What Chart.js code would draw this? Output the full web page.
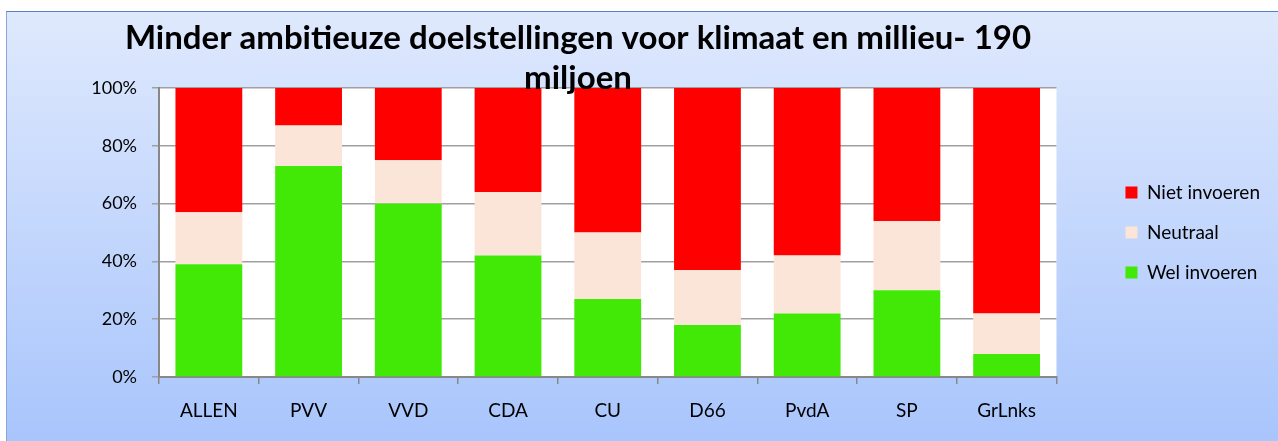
<!DOCTYPE html>
<html>
<head>
<meta charset="utf-8">
<script src="https://cdn.jsdelivr.net/npm/chart.js@4.4.0/dist/chart.umd.min.js"></script>
<style>
  html, body { margin: 0; padding: 0; background: #fff; overflow: hidden; }
  #frame {
    position: absolute; left: 6px; top: 11px; width: 1300px; height: 440px;
    border-top: 1px solid #5a80c4; border-left: 1px solid #8aa6d8;
    background: linear-gradient(to bottom, #dfe9fd 0%, #a7c4fc 100%);
  }
  #wrap { position: absolute; left: 0; top: 0; width: 1278px; height: 441px; }
</style>
</head>
<body>
<div id="frame"></div>
<div id="wrap"><canvas id="chart"></canvas></div>
<script>
// Chart data
const categories = ['ALLEN', 'PVV', 'VVD', 'CDA', 'CU', 'D66', 'PvdA', 'SP', 'GrLnks'];
const welInvoeren = [39, 73, 60, 42, 27, 18, 22, 30, 8];
const neutraal = [18, 14, 15, 22, 23, 19, 20, 24, 14];
const nietInvoeren = [43, 13, 25, 36, 50, 63, 58, 46, 78];
const yTicks = [0, 20, 40, 60, 80, 100];
const titleLines = ['Minder ambitieuze doelstellingen voor klimaat en millieu- 190', 'miljoen'];

const FONT = 'Lato';

// White plot area behind the bars
const plotBg = {
    id: 'plotBg',
    beforeDraw(chart) {
        const { ctx, chartArea: a } = chart;
        ctx.save();
        ctx.fillStyle = '#ffffff';
        ctx.fillRect(a.left, a.top, a.right - a.left, a.bottom - a.top);
        ctx.restore();
    }
};

// Title drawn on top (second line overlaps the plot, as in the original)
const titleText = {
    id: 'titleText',
    afterDraw(chart) {
        const ctx = chart.ctx;
        ctx.save();
        ctx.fillStyle = '#000';
        ctx.textAlign = 'center';
        ctx.textBaseline = 'alphabetic';
        ctx.font = `bold 33px ${FONT}`;
        ctx.fillText(titleLines[0], 578, 49);
        ctx.fillText(titleLines[1], 578, 89);
        ctx.restore();
    }
};

const ctx = document.getElementById('chart').getContext('2d');

new Chart(ctx, {
    type: 'bar',
    data: {
        labels: categories,
        datasets: [
            { label: 'Wel invoeren', data: welInvoeren, backgroundColor: '#42e806' },
            { label: 'Neutraal', data: neutraal, backgroundColor: '#fbe5d8' },
            { label: 'Niet invoeren', data: nietInvoeren, backgroundColor: '#ff0000' }
        ]
    },
    options: {
        responsive: true,
        maintainAspectRatio: false,
        animation: false,
        datasets: {
            bar: { barPercentage: 0.67, categoryPercentage: 1, borderWidth: 0 }
        },
        layout: {
            padding: { top: 88, right: 8, bottom: 0, left: 0 }
        },
        scales: {
            x: {
                stacked: true,
                grid: { offset: true, drawOnChartArea: false, tickLength: 7, color: '#888', lineWidth: 1.5 },
                border: { color: '#888', width: 2 },
                ticks: { color: '#000', font: { family: FONT, size: 19 }, padding: 15, maxRotation: 0 },
                afterFit(s) { s.height = 64; }
            },
            y: {
                stacked: true,
                min: 0,
                max: 100,
                afterBuildTicks(s) { s.ticks = yTicks.map(v => ({ value: v })); },
                ticks: {
                    color: '#000',
                    font: { family: FONT, size: 18 },
                    padding: 15,
                    callback: v => v + '%'
                },
                grid: { color: '#a0a0a0', lineWidth: 1.5, tickLength: 7 },
                border: { color: '#888', width: 2 },
                afterFit(s) { s.width = 159; }
            },
            // empty axis used as spacing between plot and legend
            gap: {
                type: 'linear',
                position: 'right',
                grid: { display: false },
                ticks: { display: false },
                border: { display: false },
                afterFit(s) { s.width = 48; }
            }
        },
        plugins: {
            title: { display: false },
            tooltip: { enabled: false },
            legend: {
                position: 'right',
                fullSize: false,
                reverse: true,
                labels: {
                    boxWidth: 12,
                    boxHeight: 12,
                    padding: 21,
                    color: '#000',
                    font: { family: FONT, size: 19 }
                }
            }
        }
    },
    plugins: [plotBg, titleText]
});
</script>
</body>
</html>
